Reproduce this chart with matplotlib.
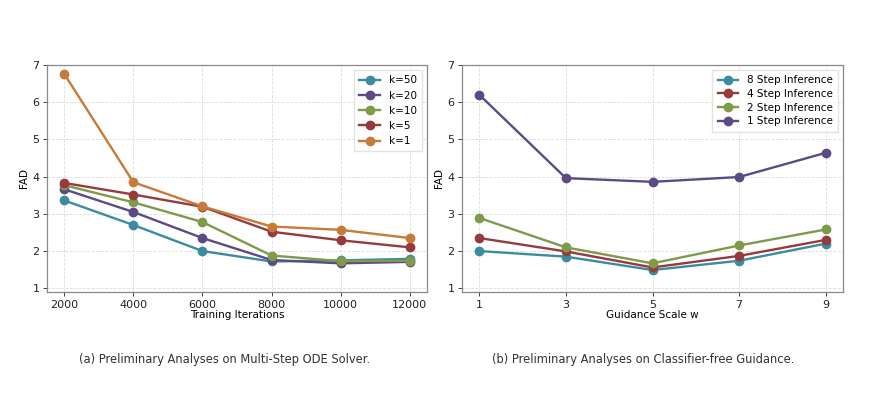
import numpy as np
import matplotlib.pyplot as plt

iters = [2000, 4000, 6000, 8000, 10000, 12000]
k_labels = ['k=50', 'k=20', 'k=10', 'k=5', 'k=1']
k50 = [3.36, 2.70, 2.00, 1.72, 1.75, 1.79]
k20 = [3.66, 3.05, 2.35, 1.76, 1.67, 1.71]
k10 = [3.77, 3.31, 2.78, 1.88, 1.73, 1.74]
k5 = [3.83, 3.52, 3.19, 2.52, 2.29, 2.10]
k1 = [6.76, 3.85, 3.20, 2.66, 2.57, 2.35]

scales = [1, 3, 5, 7, 9]
step_labels = ['8 Step Inference', '4 Step Inference', '2 Step Inference', '1 Step Inference']
s8 = [2.00, 1.85, 1.49, 1.74, 2.20]
s4 = [2.35, 1.99, 1.56, 1.87, 2.30]
s2 = [2.89, 2.10, 1.67, 2.15, 2.58]
s1 = [6.20, 3.96, 3.86, 3.99, 4.64]

teal = '#3b8ba1'
purple = '#5c4a85'
green = '#7f9a48'
red = '#973a3c'
orange = '#c87a38'

fig = plt.figure(figsize=(8.71, 4.08), dpi=100)
ax1 = fig.add_axes([47/871, 1 - 292/408, 380/871, 227/408])
ax2 = fig.add_axes([462/871, 1 - 292/408, 381/871, 227/408])

def style(ax):
	ax.grid(True, linestyle='--', color='#dddddd', linewidth=0.6)
	ax.set_axisbelow(True)
	for s in ax.spines.values():
		s.set_color('#888888')
		s.set_linewidth(0.9)
	ax.tick_params(labelsize=8, colors='#222222', length=3, width=0.6, pad=2.5)
	ax.set_ylim(0.9, 7.0)
	ax.set_yticks([1, 2, 3, 4, 5, 6, 7])
	ax.set_ylabel('FAD', fontsize=7.5, labelpad=2)

for ys, lab, c in zip([k50, k20, k10, k5, k1], k_labels, [teal, purple, green, red, orange]):
	ax1.plot(iters, ys, marker='o', markersize=6, linewidth=1.7, color=c, label=lab)
style(ax1)
ax1.set_xticks(iters)
ax1.set_xlabel('Training Iterations', fontsize=7.5, labelpad=0)
ax1.legend(loc='upper right', fontsize=7.5, handlelength=2, borderpad=0.5,
	labelspacing=0.5, fancybox=False, edgecolor='#dddddd')

for ys, lab, c in zip([s8, s4, s2, s1], step_labels, [teal, red, green, purple]):
	ax2.plot(scales, ys, marker='o', markersize=6, linewidth=1.7, color=c, label=lab)
style(ax2)
ax2.set_xticks(scales)
ax2.set_xlabel('Guidance Scale w', fontsize=7.5, labelpad=0)
ax2.legend(loc='upper right', fontsize=7.5, handlelength=2, borderpad=0.5,
	labelspacing=0.35, fancybox=False, edgecolor='#dddddd')

fig.text(225/871, 1 - 359/408, '(a) Preliminary Analyses on Multi-Step ODE Solver.',
	ha='center', va='center', fontsize=8.3, color='#333333')
fig.text(643/871, 1 - 359/408, '(b) Preliminary Analyses on Classifier-free Guidance.',
	ha='center', va='center', fontsize=8.3, color='#333333')

plt.savefig('out.png', dpi=100)
